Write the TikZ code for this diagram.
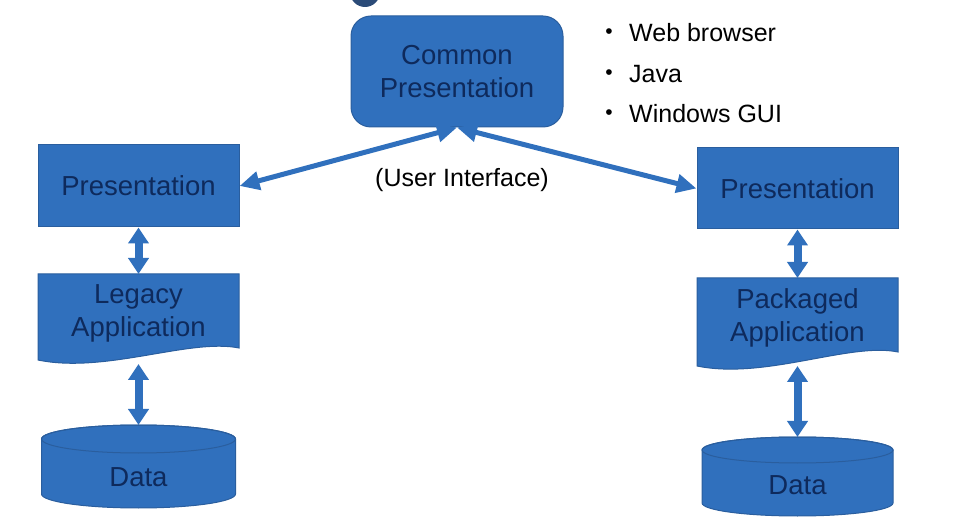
\documentclass[tikz,border=0pt]{standalone}
\usepackage{fontspec}
\setmainfont{Liberation Sans}
\usetikzlibrary{arrows.meta}
\definecolor{boxfill}{HTML}{3070BD}
\definecolor{boxline}{HTML}{2A5E9E}
\definecolor{boxtext}{HTML}{0E2A5C}
\definecolor{topdark}{HTML}{2B4B78}
\tikzset{
  x=1pt,y=1pt,
  boxshape/.style={fill=boxfill,draw=boxline,line width=1pt},
  boxlabel/.style={text=boxtext,font=\fontsize{27.5}{33}\selectfont,align=center,inner sep=0pt},
  anchorbox/.style={draw=none,inner sep=0pt,outer sep=0pt},
  plainlabel/.style={text=black,font=\fontsize{25}{30}\selectfont,inner sep=0pt},
  bulletlabel/.style={text=black,font=\fontsize{21}{25}\selectfont,inner sep=0pt},
  diagarrow/.style={draw=boxfill,line width=5pt,{Triangle[length=20pt,width=18pt]}-{Triangle[length=20pt,width=18pt]}},
  vertarrow/.style={draw=boxfill,line width=8pt,{Triangle[length=16pt,width=20pt]}-{Triangle[length=16pt,width=20pt]}}
}
\begin{document}
\begin{tikzpicture}
\useasboundingbox (0,0) rectangle (964,-518);
% partial dark shape at top
\begin{scope}
\clip (0,0) rectangle (964,-518);
\fill[topdark] (365,8) circle (15);
\end{scope}

% Common Presentation
\node[boxshape,rounded corners=20pt,minimum width=212pt,minimum height=111pt,boxlabel] (cp) at (457,-71.5) {Common\\Presentation};

% Left presentation
\node[boxshape,minimum width=201pt,minimum height=82pt,boxlabel] (lp) at (138.5,-186) {Presentation};
% Right presentation
\node[boxshape,minimum width=201pt,minimum height=81pt,boxlabel] (rp) at (797.5,-188.5) {Presentation};

% Left legacy application (document shape)
\path[boxshape] (38,-274) -- (239,-274) -- (239,-348)
  .. controls (190,-338) and (105,-374) .. (38,-360) -- cycle;
\node[anchorbox,minimum width=201pt,minimum height=89pt] (la) at (138.5,-318.5) {};
\node[boxlabel] (lat) at (138.5,-313.5) {Legacy\\Application};

% Right packaged application (document shape)
\path[boxshape] (697,-278) -- (898,-278) -- (898,-352)
  .. controls (850,-342) and (765,-380) .. (697,-366) -- cycle;
\node[anchorbox,minimum width=201pt,minimum height=89pt] (ra) at (797.5,-322.5) {};
\node[boxlabel] (rat) at (797.5,-318) {Packaged\\Application};

% Left data cylinder
\path[boxshape] (41.5,-439) -- (41.5,-494) arc (180:360:97 and 14) -- (235.5,-439) arc (0:180:97 and 14) -- cycle;
\draw[boxline,line width=1pt] (138.5,-439) ellipse (97 and 14);
\node[anchorbox,minimum width=194pt,minimum height=83pt] (ld) at (138.5,-466.5) {};
\node[boxlabel] (ldt) at (138.5,-477) {Data};

% Right data cylinder
\path[boxshape] (702,-450) -- (702,-503) arc (180:360:95.5 and 13) -- (893,-450) arc (0:180:95.5 and 13) -- cycle;
\draw[boxline,line width=1pt] (797.5,-450) ellipse (95.5 and 13);
\node[anchorbox,minimum width=191pt,minimum height=80pt] (rd) at (797.5,-477) {};
\node[boxlabel] (rdt) at (797.5,-485) {Data};

% Connectors
\draw[diagarrow] (cp.south) -- (lp.east);
\draw[diagarrow] (cp.south) -- (rp.west);
\draw[vertarrow] (lp.south) -- (la.north);
\draw[vertarrow] ([yshift=-1pt]la.south) -- (ld.north);
\draw[vertarrow] (rp.south) -- (ra.north);
\draw[vertarrow] ([yshift=1pt]ra.south) -- (rd.north);

% User interface label
\node[plainlabel] (ui) at (462,-180) {(User Interface)};

% Bullets
\node[bulletlabel,anchor=center] (b1) at (609,-34) {•};
\node[plainlabel,anchor=west] (t1) at (629,-33) {Web browser};
\node[bulletlabel,anchor=center] (b2) at (609,-75) {•};
\node[plainlabel,anchor=west] (t2) at (629,-74) {Java};
\node[bulletlabel,anchor=center] (b3) at (609,-115) {•};
\node[plainlabel,anchor=west] (t3) at (629,-114) {Windows GUI};
\end{tikzpicture}
\end{document}
